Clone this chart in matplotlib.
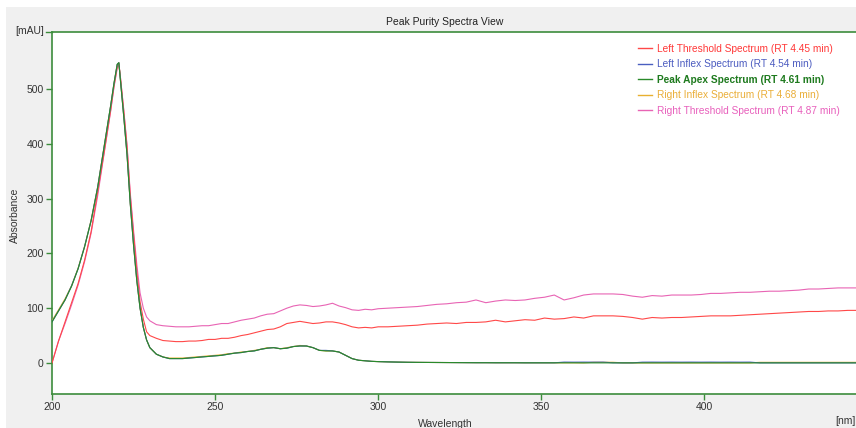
import matplotlib
matplotlib.use("Agg")
import matplotlib.pyplot as plt
from matplotlib.patches import Rectangle
from matplotlib.lines import Line2D

# ---------------- data ----------------
wl_a = [200, 202, 204, 206, 208, 210, 212, 214, 216, 218, 219, 220, 220.5, 221, 222, 223, 224,
        225, 226, 227, 228, 229, 230, 232, 234, 236, 238, 240, 242, 244, 246, 248, 250, 252,
        254, 256, 258, 260, 262, 264, 266, 268, 270, 272, 274, 276, 278, 280, 282, 284, 286,
        288, 290, 292, 294, 296, 298, 300]
wl_b = [303, 306, 309, 312, 315, 318, 321, 324, 327, 330, 333, 336, 339, 342, 345, 348, 351,
        354, 357, 360, 363, 366, 369, 372, 375, 378, 381, 384, 387, 390, 393, 396, 399, 402,
        405, 408, 411, 414, 417, 420, 423, 426, 429, 432, 435, 438, 441, 444, 447]
wavelength = wl_a + wl_b

left_threshold = [0, 40, 75, 110, 145, 188, 240, 312, 385, 462, 505, 540, 546, 520, 460, 395, 305,
                  235, 168, 112, 80, 57, 50, 45, 41, 40, 39, 39, 40, 40, 41, 43, 43, 45,
                  45, 47, 50, 52, 55, 58, 61, 62, 66, 72, 74, 76, 74, 72, 73, 75, 75,
                  73, 70, 66, 64, 65, 64, 66] + \
                 [66, 67, 68, 69, 71, 72, 73, 72, 74, 74, 75, 78, 75, 77, 79, 78, 82,
                  80, 81, 84, 82, 86, 86, 86, 85, 83, 80, 83, 82, 83, 83, 84, 85, 86,
                  86, 86, 87, 88, 89, 90, 91, 92, 93, 94, 94, 95, 95, 96, 96]

peak_apex = [75, 95, 115, 140, 172, 212, 260, 320, 395, 470, 510, 545, 548, 515, 450, 380, 290,
             215, 150, 100, 65, 42, 28, 16, 11, 8, 8, 8, 9, 10, 11, 12, 13, 14,
             16, 18, 19, 21, 22, 25, 27, 28, 26, 27, 30, 31, 31, 28, 23, 22, 22,
             20, 14, 8, 5, 4, 3, 2.5] + \
            [2.0, 1.6, 1.3, 1.1, 1.0, 0.9, 0.8, 0.7, 0.6, 0.5, 0.5, 0.4, 0.4, 0.4, 0.3, 0.3, 0.3,
             0.3, 0.3, 0.3, 0.2, 0.2, 0.2, 0.2, 0.2, 0.2, 0.2, 0.2, 0.2, 0.2, 0.2, 0.2, 0.2, 0.2,
             0.2, 0.2, 0.2, 0.2, 0.2, 0.2, 0.2, 0.2, 0.2, 0.2, 0.2, 0.2, 0.2, 0.2, 0.2]

left_inflex = [75, 95, 115, 141, 172, 213, 260, 321, 395, 470, 510, 545, 548, 515, 450, 381, 291,
               216, 151, 100, 65, 42, 28, 16, 11, 8, 8, 8, 9, 10, 11, 12, 13, 14,
               16, 18, 19, 21, 22, 25, 27, 28, 26, 27, 30, 31, 31, 28, 23, 23, 22,
               20, 14, 8, 5, 4, 3, 2.5] + \
              [2.0, 1.6, 1.3, 1.1, 1.0, 0.9, 0.8, 0.7, 0.6, 0.5, 0.5, 0.4, 0.4, 0.4, 0.3, 0.3, 0.3,
               0.3, 1.6, 1.5, 1.6, 1.5, 1.6, 0.3, 0.2, 0.2, 1.5, 1.6, 1.5, 1.6, 1.5, 1.6, 1.5, 1.6,
               1.5, 1.6, 1.5, 1.6, 0.2, 0.2, 0.2, 0.2, 0.2, 0.2, 0.2, 0.2, 0.2, 0.2, 0.2]

right_inflex = [77, 97, 117, 141, 173, 213, 261, 321, 396, 470, 510, 545, 548, 515, 450, 381, 291,
                216, 151, 100, 65, 42, 28, 16, 11, 9, 9, 9, 10, 11, 12, 13, 14, 15,
                17, 18, 20, 21, 23, 25, 28, 28, 26, 28, 30, 32, 31, 28, 23, 22, 22,
                20, 14, 8, 5, 4, 3, 2.5] + \
               [2.0, 1.7, 1.3, 1.2, 1.0, 0.9, 0.8, 0.7, 0.6, 0.5, 0.5, 0.4, 0.4, 0.4, 0.3, 0.3, 0.3,
                0.3, 0.3, 0.3, 0.2, 1.3, 1.3, 1.3, 0.2, 0.2, 0.2, 0.2, 0.2, 0.2, 0.2, 0.2, 0.2, 0.2,
                0.2, 0.2, 0.2, 0.2, 1.2, 1.2, 1.2, 1.2, 1.2, 1.2, 1.2, 1.2, 1.2, 1.2, 1.2]

right_threshold = [0, 40, 72, 106, 142, 185, 237, 305, 383, 460, 503, 538, 545, 520, 462, 398, 310,
                   242, 180, 128, 100, 84, 77, 70, 68, 67, 66, 66, 66, 67, 68, 68, 70, 72,
                   72, 75, 78, 80, 82, 86, 89, 90, 95, 100, 104, 106, 105, 103, 104, 106, 109,
                   104, 101, 97, 96, 98, 97, 99] + \
                  [100, 101, 102, 103, 105, 107, 108, 110, 111, 115, 110, 113, 115, 114, 115, 118, 120,
                   124, 115, 119, 124, 126, 126, 126, 125, 122, 120, 123, 122, 124, 124, 124, 125, 127,
                   127, 128, 129, 129, 130, 131, 131, 132, 133, 135, 135, 136, 137, 137, 137]

labels = ["Left Threshold Spectrum (RT 4.45 min)",
          "Left Inflex Spectrum (RT 4.54 min)",
          "Peak Apex Spectrum (RT 4.61 min)",
          "Right Inflex Spectrum (RT 4.68 min)",
          "Right Threshold Spectrum (RT 4.87 min)"]
x_ticks = [200, 250, 300, 350, 400]
y_ticks = [0, 100, 200, 300, 400, 500]

# ---------------- styling ----------------
line_colors = ["#ff4848", "#4a5fc0", "#2a8a2a", "#e8b030", "#e864b4"]
text_colors = ["#ff3838", "#4c5cc0", "#1e7a1e", "#eaae38", "#e860bc"]
axis_green = "#3c8c3c"
FONT = ["Liberation Sans", "DejaVu Sans"]
plt.rcParams["font.family"] = FONT

fig = plt.figure(figsize=(8.56, 4.28), dpi=100, facecolor="white")
fig.patches.append(Rectangle((6 / 856, 0), 1, 1 - 7 / 428, transform=fig.transFigure,
                             facecolor="#f0f0f0", edgecolor="none", zorder=-10))

ax = fig.add_axes([52 / 856, 1 - 394 / 428, 804 / 856, 362 / 428])
ax.set_facecolor("white")

series = [left_threshold, left_inflex, peak_apex, right_inflex, right_threshold]
draw_order = [4, 0, 3, 1, 2]
for i in draw_order:
    ax.plot(wavelength, series[i], color=line_colors[i], lw=0.8, zorder=2 + draw_order.index(i))

ax.set_xlim(200, 446.5)
ax.set_ylim(-56.6, 604)
ax.set_xticks(x_ticks)
ax.set_yticks(y_ticks)
ax.tick_params(axis="both", direction="out", length=4, width=1, color=axis_green,
               labelsize=7.5, labelcolor="#333333", pad=2)

for side in ["left", "bottom", "top"]:
    ax.spines[side].set_color(axis_green)
    ax.spines[side].set_linewidth(1.2)
ax.spines["right"].set_visible(False)

# unit labels
ax.annotate("[mAU]", xy=(0, 1), xycoords="axes fraction", xytext=(-6, 1),
            textcoords="offset points", ha="right", va="center", fontsize=7.5, color="#333333")
ax.plot([-0.008, 0], [1, 1], transform=ax.transAxes, color=axis_green, lw=1, clip_on=False)
fig.text(845 / 856, 1 - 421 / 428, "[nm]", ha="center", va="center", fontsize=7.5, color="#333333")
fig.text(445 / 856, 1 - 424 / 428, "Wavelength", ha="center", va="center", fontsize=7.5, color="#333333")
fig.text(15 / 856, 1 - 215 / 428, "Absorbance", ha="center", va="center", rotation=90,
         fontsize=7.5, color="#333333")
fig.text(445 / 856, 1 - 22 / 428, "Peak Purity Spectra View", ha="center", va="center",
         fontsize=7.5, color="#222222")

# legend
handles = [Line2D([], [], color=line_colors[i], lw=1.0) for i in range(5)]
leg = ax.legend(handles, labels, loc="upper right", bbox_to_anchor=(0.985, 0.978), frameon=False,
                fontsize=7.3, handlelength=1.4, handletextpad=0.5, labelspacing=0.53,
                borderaxespad=0)
for i, t in enumerate(leg.get_texts()):
    t.set_color(text_colors[i])
    if i == 2:
        t.set_fontweight("bold")

fig.savefig("out.png", dpi=100, facecolor=fig.get_facecolor())
